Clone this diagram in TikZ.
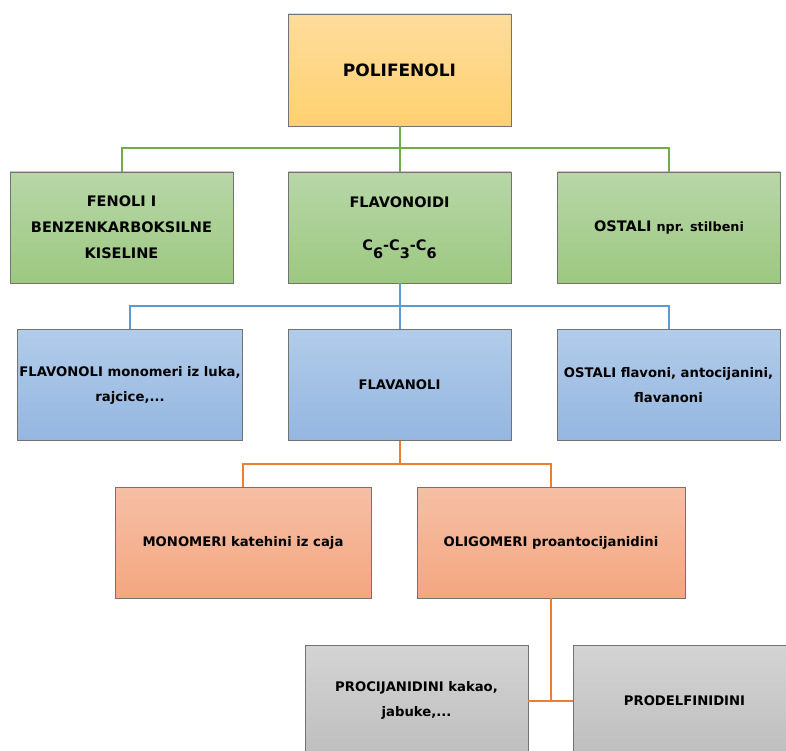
\documentclass[tikz,border=0pt]{standalone}
\usepackage{fontspec}
\setmainfont{DejaVu Sans}
\definecolor{poltop}{HTML}{FEDC9C}
\definecolor{polbot}{HTML}{FED170}
\definecolor{grtop}{HTML}{B8D7A8}
\definecolor{grbot}{HTML}{9CC880}
\definecolor{bltop}{HTML}{B2CCEA}
\definecolor{blbot}{HTML}{94B6E0}
\definecolor{ortop}{HTML}{F6BFA5}
\definecolor{orbot}{HTML}{F4A680}
\definecolor{gytop}{HTML}{D4D4D4}
\definecolor{gybot}{HTML}{BEBEBE}
\definecolor{gline}{HTML}{70AD47}
\definecolor{bline}{HTML}{5B9BD5}
\definecolor{oline}{HTML}{ED7D31}
\newcommand\lsub[1]{\raisebox{-0.55em}{#1}}
\begin{document}
\begin{tikzpicture}[x=1pt,y=-1pt,
  box/.style={draw=black!55, line width=0.8pt, rectangle, inner sep=2pt, align=center,
    font=\bfseries\fontsize{13.2}{25}\selectfont, minimum width=223pt, minimum height=111pt},
  polbox/.style={box, top color=poltop, bottom color=polbot, minimum height=112pt},
  grbox/.style={box, top color=grtop, bottom color=grbot},
  blbox/.style={box, top color=bltop, bottom color=blbot},
  orbox/.style={box, top color=ortop, bottom color=orbot},
  gybox/.style={box, top color=gytop, bottom color=gybot},
  conn/.style={line width=2pt}]
\useasboundingbox (0,0) rectangle (786,751);

\node[polbox, font=\bfseries\fontsize{17}{20}\selectfont] (pol) at (399.5,70) {POLIFENOLI};

\node[grbox, font=\bfseries\fontsize{14.5}{26}\selectfont] (fen) at (121.5,227.5) {FENOLI I\\BENZENKARBOKSILNE\\KISELINE};
\node[grbox, font=\bfseries\fontsize{14.5}{26}\selectfont] (flav) at (399.5,227.5) {FLAVONOIDI\\[17pt]C\lsub{6}-C\lsub{3}-C\lsub{6}};
\node[grbox, font=\bfseries\fontsize{14.5}{26}\selectfont] (ost1) at (669,227.5) {OSTALI {\fontsize{12.8}{15}\selectfont npr. stilbeni}};

\node[blbox, minimum width=224pt] (fnl) at (130,385) {FLAVONOLI monomeri iz luka,\\rajcice,...};
\node[blbox] (fnn) at (399.5,385) {FLAVANOLI};
\node[blbox] (ost2) at (668.5,385) {OSTALI flavoni, antocijanini,\\flavanoni};

\node[orbox, minimum width=256pt] (mon) at (243,542.5) {MONOMERI katehini iz caja};
\node[orbox, minimum width=268pt] (oli) at (551,542.5) {OLIGOMERI proantocijanidini};

\node[gybox] (pro) at (416.5,700.5) {PROCIJANIDINI kakao,\\jabuke,...};
\node[gybox] (prod) at (684.5,700.5) {PRODELFINIDINI};

\coordinate (g) at (399.5,148);
\coordinate (b) at (399.5,306);
\coordinate (o) at (399.5,464);

\draw[conn, gline] (pol.south) -- (g);
\draw[conn, gline] (g) -- (flav.north);
\draw[conn, gline] (g) -| (fen.north);
\draw[conn, gline] (g) -| (ost1.north);

\draw[conn, bline] (flav.south) -- (b);
\draw[conn, bline] (b) -- (fnn.north);
\draw[conn, bline] (b) -| (fnl.north);
\draw[conn, bline] (b) -| (ost2.north);

\draw[conn, oline] (fnn.south) -- (o);
\draw[conn, oline] (o) -| (mon.north);
\draw[conn, oline] (o) -| (oli.north);

\draw[conn, oline] (oli.south) |- (pro.east);
\draw[conn, oline] (oli.south) |- (prod.west);
\end{tikzpicture}
\end{document}
